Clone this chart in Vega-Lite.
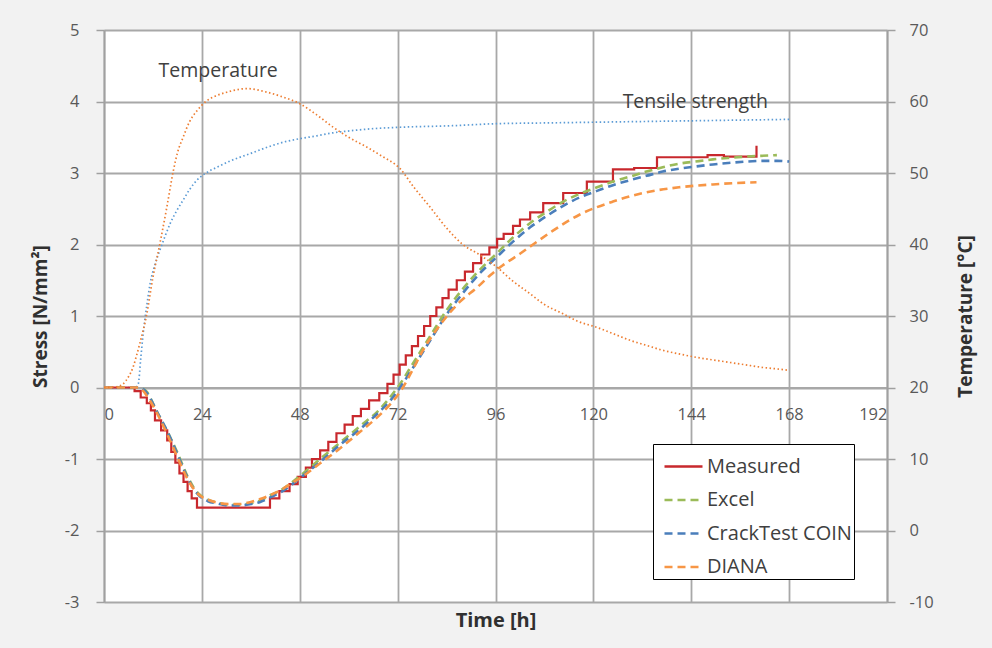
{
  "$schema": "https://vega.github.io/schema/vega-lite/v6.json",
  "width": 783,
  "height": 572,
  "autosize": {"type": "none"},
  "padding": {"left": 104, "top": 30, "right": 105, "bottom": 46},
  "background": "#f2f2f2",
  "config": {
    "view": {"fill": "white", "stroke": null},
    "font": "Open Sans",
    "axis": {
      "labelFont": "Open Sans", "labelFontSize": 16.5, "labelColor": "#595959",
      "titleFont": "Open Sans", "titleFontSize": 19, "titleColor": "#303030", "titleFontWeight": "bold",
      "domainColor": "#a0a0a0", "domainWidth": 1.8, "tickColor": "#a0a0a0", "tickWidth": 1.5,
      "gridColor": "#a8a8a8", "gridWidth": 1.8
    },
    "legend": {
      "labelFont": "Open Sans", "labelFontSize": 20, "labelColor": "#404040"
    }
  },
  "datasets": {
    "stress": [
      {"series": "Measured", "h": 0, "s": 0}, {"series": "Measured", "h": 7.5, "s": -0.05}, {"series": "Measured", "h": 9, "s": -0.14},
      {"series": "Measured", "h": 10.5, "s": -0.22}, {"series": "Measured", "h": 11.5, "s": -0.32}, {"series": "Measured", "h": 12.5, "s": -0.46},
      {"series": "Measured", "h": 14, "s": -0.6}, {"series": "Measured", "h": 15.5, "s": -0.74}, {"series": "Measured", "h": 16.5, "s": -0.9},
      {"series": "Measured", "h": 17.5, "s": -1.05}, {"series": "Measured", "h": 18.5, "s": -1.2}, {"series": "Measured", "h": 19.5, "s": -1.32},
      {"series": "Measured", "h": 20.5, "s": -1.45}, {"series": "Measured", "h": 21.5, "s": -1.55}, {"series": "Measured", "h": 22.8, "s": -1.68},
      {"series": "Measured", "h": 40.7, "s": -1.55}, {"series": "Measured", "h": 43, "s": -1.45}, {"series": "Measured", "h": 45.5, "s": -1.35},
      {"series": "Measured", "h": 47.5, "s": -1.25}, {"series": "Measured", "h": 49.5, "s": -1.12}, {"series": "Measured", "h": 51, "s": -1.0},
      {"series": "Measured", "h": 53, "s": -0.88}, {"series": "Measured", "h": 55, "s": -0.76}, {"series": "Measured", "h": 57, "s": -0.64},
      {"series": "Measured", "h": 59, "s": -0.52}, {"series": "Measured", "h": 61, "s": -0.4}, {"series": "Measured", "h": 63, "s": -0.3},
      {"series": "Measured", "h": 65, "s": -0.18}, {"series": "Measured", "h": 67.5, "s": -0.08}, {"series": "Measured", "h": 69.5, "s": 0.05},
      {"series": "Measured", "h": 71, "s": 0.18}, {"series": "Measured", "h": 72.5, "s": 0.32}, {"series": "Measured", "h": 74, "s": 0.45},
      {"series": "Measured", "h": 75.5, "s": 0.58}, {"series": "Measured", "h": 77, "s": 0.72}, {"series": "Measured", "h": 78.5, "s": 0.86},
      {"series": "Measured", "h": 80, "s": 1.0}, {"series": "Measured", "h": 81.5, "s": 1.12}, {"series": "Measured", "h": 83, "s": 1.25},
      {"series": "Measured", "h": 84.5, "s": 1.37}, {"series": "Measured", "h": 86.5, "s": 1.5}, {"series": "Measured", "h": 88.5, "s": 1.62},
      {"series": "Measured", "h": 90.5, "s": 1.74}, {"series": "Measured", "h": 92.5, "s": 1.86}, {"series": "Measured", "h": 94.5, "s": 1.96},
      {"series": "Measured", "h": 96.4, "s": 2.08}, {"series": "Measured", "h": 98, "s": 2.15}, {"series": "Measured", "h": 100.3, "s": 2.26},
      {"series": "Measured", "h": 102, "s": 2.35}, {"series": "Measured", "h": 104.5, "s": 2.45}, {"series": "Measured", "h": 107.7, "s": 2.58},
      {"series": "Measured", "h": 112.6, "s": 2.72}, {"series": "Measured", "h": 118.4, "s": 2.88}, {"series": "Measured", "h": 124.8, "s": 3.05},
      {"series": "Measured", "h": 130, "s": 3.07}, {"series": "Measured", "h": 135.6, "s": 3.22}, {"series": "Measured", "h": 148, "s": 3.25},
      {"series": "Measured", "h": 152, "s": 3.23}, {"series": "Measured", "h": 160, "s": 3.38},

      {"series": "Excel", "h": 0, "s": 0}, {"series": "Excel", "h": 8, "s": 0}, {"series": "Excel", "h": 9.6, "s": -0.02},
      {"series": "Excel", "h": 10.5, "s": -0.06}, {"series": "Excel", "h": 12, "s": -0.22}, {"series": "Excel", "h": 13, "s": -0.34},
      {"series": "Excel", "h": 15.4, "s": -0.6}, {"series": "Excel", "h": 17.9, "s": -0.9}, {"series": "Excel", "h": 20.3, "s": -1.22},
      {"series": "Excel", "h": 22, "s": -1.4}, {"series": "Excel", "h": 23.5, "s": -1.5}, {"series": "Excel", "h": 25.5, "s": -1.57},
      {"series": "Excel", "h": 27.7, "s": -1.61}, {"series": "Excel", "h": 30.5, "s": -1.64}, {"series": "Excel", "h": 33.3, "s": -1.64},
      {"series": "Excel", "h": 36, "s": -1.62}, {"series": "Excel", "h": 38.3, "s": -1.58}, {"series": "Excel", "h": 41, "s": -1.5},
      {"series": "Excel", "h": 43.2, "s": -1.44}, {"series": "Excel", "h": 46, "s": -1.33}, {"series": "Excel", "h": 48, "s": -1.24},
      {"series": "Excel", "h": 53, "s": -1.0}, {"series": "Excel", "h": 57.9, "s": -0.77}, {"series": "Excel", "h": 62.8, "s": -0.54},
      {"series": "Excel", "h": 67.7, "s": -0.3}, {"series": "Excel", "h": 70.1, "s": -0.14}, {"series": "Excel", "h": 72.6, "s": 0.05},
      {"series": "Excel", "h": 75.8, "s": 0.34}, {"series": "Excel", "h": 80, "s": 0.72}, {"series": "Excel", "h": 84, "s": 1.08},
      {"series": "Excel", "h": 88, "s": 1.38}, {"series": "Excel", "h": 92.2, "s": 1.65}, {"series": "Excel", "h": 96.4, "s": 1.88},
      {"series": "Excel", "h": 100.3, "s": 2.1}, {"series": "Excel", "h": 104.5, "s": 2.3}, {"series": "Excel", "h": 108.6, "s": 2.46},
      {"series": "Excel", "h": 112.6, "s": 2.6}, {"series": "Excel", "h": 116.7, "s": 2.71}, {"series": "Excel", "h": 120.9, "s": 2.8},
      {"series": "Excel", "h": 124.8, "s": 2.88}, {"series": "Excel", "h": 129, "s": 2.95}, {"series": "Excel", "h": 133, "s": 3.02},
      {"series": "Excel", "h": 137, "s": 3.08}, {"series": "Excel", "h": 141, "s": 3.13}, {"series": "Excel", "h": 145, "s": 3.16},
      {"series": "Excel", "h": 149.3, "s": 3.19}, {"series": "Excel", "h": 153, "s": 3.21}, {"series": "Excel", "h": 157.7, "s": 3.23},
      {"series": "Excel", "h": 161, "s": 3.24}, {"series": "Excel", "h": 165, "s": 3.25},

      {"series": "CrackTest COIN", "h": 0, "s": 0}, {"series": "CrackTest COIN", "h": 8.5, "s": 0}, {"series": "CrackTest COIN", "h": 10, "s": -0.04},
      {"series": "CrackTest COIN", "h": 11, "s": -0.12}, {"series": "CrackTest COIN", "h": 13, "s": -0.34}, {"series": "CrackTest COIN", "h": 15.4, "s": -0.6},
      {"series": "CrackTest COIN", "h": 17.9, "s": -0.92}, {"series": "CrackTest COIN", "h": 20.3, "s": -1.24}, {"series": "CrackTest COIN", "h": 22, "s": -1.42},
      {"series": "CrackTest COIN", "h": 23.5, "s": -1.52}, {"series": "CrackTest COIN", "h": 25.5, "s": -1.59}, {"series": "CrackTest COIN", "h": 27.7, "s": -1.62},
      {"series": "CrackTest COIN", "h": 30.5, "s": -1.65}, {"series": "CrackTest COIN", "h": 33.3, "s": -1.65}, {"series": "CrackTest COIN", "h": 36, "s": -1.63},
      {"series": "CrackTest COIN", "h": 38.3, "s": -1.6}, {"series": "CrackTest COIN", "h": 41, "s": -1.53}, {"series": "CrackTest COIN", "h": 43.2, "s": -1.47},
      {"series": "CrackTest COIN", "h": 46, "s": -1.36}, {"series": "CrackTest COIN", "h": 48, "s": -1.27}, {"series": "CrackTest COIN", "h": 53, "s": -1.04},
      {"series": "CrackTest COIN", "h": 57.9, "s": -0.8}, {"series": "CrackTest COIN", "h": 62.8, "s": -0.58}, {"series": "CrackTest COIN", "h": 67.7, "s": -0.33},
      {"series": "CrackTest COIN", "h": 70.1, "s": -0.19}, {"series": "CrackTest COIN", "h": 72.6, "s": 0.0}, {"series": "CrackTest COIN", "h": 75.8, "s": 0.28},
      {"series": "CrackTest COIN", "h": 80, "s": 0.66}, {"series": "CrackTest COIN", "h": 84, "s": 1.02}, {"series": "CrackTest COIN", "h": 88, "s": 1.32},
      {"series": "CrackTest COIN", "h": 92.2, "s": 1.6}, {"series": "CrackTest COIN", "h": 96.4, "s": 1.83}, {"series": "CrackTest COIN", "h": 100.3, "s": 2.04},
      {"series": "CrackTest COIN", "h": 104.5, "s": 2.24}, {"series": "CrackTest COIN", "h": 108.6, "s": 2.4}, {"series": "CrackTest COIN", "h": 112.6, "s": 2.54},
      {"series": "CrackTest COIN", "h": 116.7, "s": 2.66}, {"series": "CrackTest COIN", "h": 120.9, "s": 2.75}, {"series": "CrackTest COIN", "h": 124.8, "s": 2.83},
      {"series": "CrackTest COIN", "h": 129, "s": 2.9}, {"series": "CrackTest COIN", "h": 133, "s": 2.96}, {"series": "CrackTest COIN", "h": 137, "s": 3.02},
      {"series": "CrackTest COIN", "h": 141, "s": 3.06}, {"series": "CrackTest COIN", "h": 145, "s": 3.09}, {"series": "CrackTest COIN", "h": 149.3, "s": 3.12},
      {"series": "CrackTest COIN", "h": 153, "s": 3.14}, {"series": "CrackTest COIN", "h": 157.7, "s": 3.16}, {"series": "CrackTest COIN", "h": 162, "s": 3.17},
      {"series": "CrackTest COIN", "h": 165, "s": 3.17}, {"series": "CrackTest COIN", "h": 168, "s": 3.16},

      {"series": "DIANA", "h": 0, "s": 0}, {"series": "DIANA", "h": 8, "s": 0}, {"series": "DIANA", "h": 9.5, "s": -0.04},
      {"series": "DIANA", "h": 11, "s": -0.16}, {"series": "DIANA", "h": 13, "s": -0.36}, {"series": "DIANA", "h": 15.4, "s": -0.64},
      {"series": "DIANA", "h": 17.9, "s": -0.96}, {"series": "DIANA", "h": 20.3, "s": -1.26}, {"series": "DIANA", "h": 22, "s": -1.42},
      {"series": "DIANA", "h": 23.5, "s": -1.51}, {"series": "DIANA", "h": 25.5, "s": -1.57}, {"series": "DIANA", "h": 27.7, "s": -1.61},
      {"series": "DIANA", "h": 30.5, "s": -1.63}, {"series": "DIANA", "h": 33.3, "s": -1.63}, {"series": "DIANA", "h": 36, "s": -1.6},
      {"series": "DIANA", "h": 38.3, "s": -1.56}, {"series": "DIANA", "h": 41, "s": -1.5}, {"series": "DIANA", "h": 43.2, "s": -1.44},
      {"series": "DIANA", "h": 46, "s": -1.34}, {"series": "DIANA", "h": 48, "s": -1.27}, {"series": "DIANA", "h": 53, "s": -1.06},
      {"series": "DIANA", "h": 57.9, "s": -0.85}, {"series": "DIANA", "h": 62.8, "s": -0.62}, {"series": "DIANA", "h": 67.7, "s": -0.38},
      {"series": "DIANA", "h": 70.1, "s": -0.24}, {"series": "DIANA", "h": 73.3, "s": 0.0}, {"series": "DIANA", "h": 75.8, "s": 0.26},
      {"series": "DIANA", "h": 78.2, "s": 0.52}, {"series": "DIANA", "h": 81.7, "s": 0.82}, {"series": "DIANA", "h": 84.1, "s": 1.0},
      {"series": "DIANA", "h": 87.3, "s": 1.2}, {"series": "DIANA", "h": 91.5, "s": 1.4}, {"series": "DIANA", "h": 94.7, "s": 1.57},
      {"series": "DIANA", "h": 97.8, "s": 1.71}, {"series": "DIANA", "h": 102, "s": 1.87}, {"series": "DIANA", "h": 105.2, "s": 2.0},
      {"series": "DIANA", "h": 110, "s": 2.19}, {"series": "DIANA", "h": 116.7, "s": 2.42}, {"series": "DIANA", "h": 124.8, "s": 2.6},
      {"series": "DIANA", "h": 133, "s": 2.73}, {"series": "DIANA", "h": 141, "s": 2.8}, {"series": "DIANA", "h": 149.3, "s": 2.84},
      {"series": "DIANA", "h": 155, "s": 2.86}, {"series": "DIANA", "h": 160, "s": 2.87}
    ],
    "tensile": [
      {"h": 0, "s": 0}, {"h": 7.5, "s": 0}, {"h": 8.4, "s": 0.05}, {"h": 9, "s": 0.4}, {"h": 9.6, "s": 0.75},
      {"h": 10.5, "s": 1.15}, {"h": 11.3, "s": 1.45}, {"h": 12.5, "s": 1.72}, {"h": 13.7, "s": 1.92}, {"h": 15, "s": 2.12},
      {"h": 16.2, "s": 2.29}, {"h": 17.8, "s": 2.47}, {"h": 19.4, "s": 2.62}, {"h": 21, "s": 2.77}, {"h": 22.8, "s": 2.9},
      {"h": 25, "s": 3.0}, {"h": 27.7, "s": 3.08}, {"h": 31, "s": 3.17}, {"h": 35.8, "s": 3.27}, {"h": 40, "s": 3.36},
      {"h": 43.9, "s": 3.43}, {"h": 48, "s": 3.48}, {"h": 52.2, "s": 3.52}, {"h": 56, "s": 3.56}, {"h": 60.3, "s": 3.59},
      {"h": 66, "s": 3.62}, {"h": 72.6, "s": 3.64}, {"h": 84.8, "s": 3.66}, {"h": 96.4, "s": 3.69}, {"h": 108, "s": 3.7},
      {"h": 120, "s": 3.71}, {"h": 132, "s": 3.72}, {"h": 144, "s": 3.73}, {"h": 156, "s": 3.74}, {"h": 168, "s": 3.75}
    ],
    "temperature": [
      {"h": 0, "t": 20}, {"h": 3, "t": 20.1}, {"h": 4.7, "t": 20.5}, {"h": 6, "t": 21.5}, {"h": 7.1, "t": 22.8},
      {"h": 8, "t": 24.5}, {"h": 8.8, "t": 26.2}, {"h": 10.5, "t": 30.3}, {"h": 12, "t": 35.4}, {"h": 13.7, "t": 40.1},
      {"h": 15.4, "t": 45.2}, {"h": 17, "t": 50.3}, {"h": 18, "t": 52.8}, {"h": 19.4, "t": 55}, {"h": 21, "t": 57.2},
      {"h": 22.8, "t": 58.7}, {"h": 25.2, "t": 60.1}, {"h": 27.5, "t": 60.8}, {"h": 30.1, "t": 61.3}, {"h": 35, "t": 61.8},
      {"h": 40, "t": 61.3}, {"h": 44, "t": 60.6}, {"h": 48, "t": 59.7}, {"h": 52, "t": 58.2}, {"h": 56.2, "t": 56.4},
      {"h": 60, "t": 55}, {"h": 64.5, "t": 53.6}, {"h": 68, "t": 52.4}, {"h": 72.6, "t": 50.6}, {"h": 76, "t": 48},
      {"h": 80, "t": 45.2}, {"h": 84, "t": 42.3}, {"h": 88, "t": 40}, {"h": 92, "t": 38.6}, {"h": 96.4, "t": 36.8},
      {"h": 100, "t": 35}, {"h": 104.5, "t": 33.1}, {"h": 108, "t": 31.6}, {"h": 112.6, "t": 30.3}, {"h": 116, "t": 29.3},
      {"h": 120.9, "t": 28.4}, {"h": 125, "t": 27.5}, {"h": 129, "t": 26.6}, {"h": 133, "t": 25.9}, {"h": 137, "t": 25.2},
      {"h": 141, "t": 24.7}, {"h": 145.4, "t": 24.2}, {"h": 150, "t": 23.8}, {"h": 153.5, "t": 23.5}, {"h": 157, "t": 23.2},
      {"h": 161.6, "t": 22.8}, {"h": 165, "t": 22.6}, {"h": 168, "t": 22.4}
    ],
    "labels": [
      {"h": 28, "s": 4.43, "label": "Temperature"},
      {"h": 145, "s": 4.0, "label": "Tensile strength"}
    ]
  },
  "layer": [
    {
      "layer": [
        {
          "data": {"name": "tensile"},
          "mark": {"type": "line", "color": "#5b9bd5", "strokeWidth": 1.7, "strokeDash": [1.5, 2.5], "interpolate": "monotone"},
          "encoding": {
            "x": {"field": "h", "type": "quantitative", "scale": {"domain": [0, 192], "nice": false},
              "axis": {"values": [0, 24, 48, 72, 96, 120, 144, 168, 192], "offset": -214.5, "title": "Time [h]",
                "titleY": 233, "titleBaseline": "middle", "titleFontSize": 20, "tickSize": 0, "labelPadding": 19,
                "grid": true, "domainColor": "#a8a8a8"}},
            "y": {"field": "s", "type": "quantitative", "scale": {"domain": [-3, 5], "nice": false},
              "axis": {"values": [-3, -2, -1, 0, 1, 2, 3, 4, 5], "labelExpr": "'' + datum.value", "title": "Stress [N/mm²]", "tickSize": 8, "labelPadding": 17,
                "grid": true, "titleX": -64, "titleBaseline": "middle"}}
          }
        },
        {
          "data": {"name": "labels"},
          "mark": {"type": "text", "font": "Open Sans", "fontSize": 19.5, "color": "#404040"},
          "encoding": {
            "x": {"field": "h", "type": "quantitative"},
            "y": {"field": "s", "type": "quantitative"},
            "text": {"field": "label"}
          }
        },
        {
          "data": {"name": "stress"},
          "transform": [{"filter": "datum.series === 'Measured'"}],
          "mark": {"type": "line", "strokeWidth": 2.2, "interpolate": "step-after"},
          "encoding": {
            "x": {"field": "h", "type": "quantitative"},
            "y": {"field": "s", "type": "quantitative"},
            "color": {"field": "series", "type": "nominal",
              "scale": {"domain": ["Measured", "Excel", "CrackTest COIN", "DIANA"], "range": ["#c8282d", "#9bbb59", "#4a7ebb", "#f79646"]},
              "legend": {"orient": "none", "legendX": 549, "legendY": 414, "title": null, "fillColor": "white", "strokeColor": "#000000",
                "padding": 2, "symbolType": "stroke", "symbolSize": 1444, "symbolStrokeWidth": 2.6, "symbolOffset": 8, "labelOffset": 3, "rowPadding": 2.5}},
            "strokeDash": {"field": "series", "type": "nominal",
              "scale": {"domain": ["Measured", "Excel", "CrackTest COIN", "DIANA"], "range": [[1, 0], [8, 5], [8, 5], [8, 5]]}}
          }
        },
        {
          "data": {"name": "stress"},
          "transform": [{"filter": "datum.series !== 'Measured'"}],
          "mark": {"type": "line", "strokeWidth": 2.6, "interpolate": "monotone"},
          "encoding": {
            "x": {"field": "h", "type": "quantitative"},
            "y": {"field": "s", "type": "quantitative"},
            "color": {"field": "series", "type": "nominal"},
            "strokeDash": {"field": "series", "type": "nominal"}
          }
        }
      ]
    },
    {
      "data": {"name": "temperature"},
      "mark": {"type": "line", "color": "#ed7d31", "strokeWidth": 1.7, "strokeDash": [1.5, 2.5], "interpolate": "monotone"},
      "encoding": {
        "x": {"field": "h", "type": "quantitative"},
        "y": {"field": "t", "type": "quantitative", "scale": {"domain": [-10, 70], "nice": false},
          "axis": {"orient": "right", "values": [-10, 0, 10, 20, 30, 40, 50, 60, 70], "labelExpr": "'' + datum.value", "title": "Temperature [°C]", "tickSize": 8,
            "labelPadding": 14, "grid": false, "titleAngle": 270, "titleX": 78, "titleBaseline": "middle"}}
      }
    }
  ],
  "resolve": {"scale": {"y": "independent"}}
}
